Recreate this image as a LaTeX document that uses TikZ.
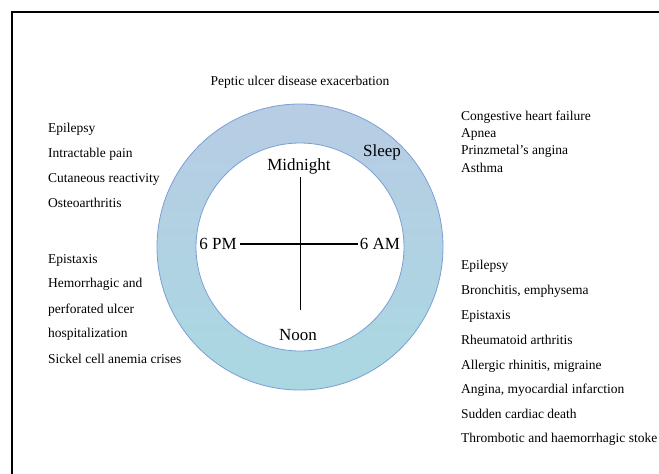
\documentclass[tikz,border=0pt]{standalone}
\usepackage{fontspec}
\setmainfont{Liberation Serif}
\usepackage{xcolor}
\definecolor{ringtop}{HTML}{B8CCE4}
\definecolor{ringmid}{HTML}{C6E4EC}
\definecolor{ringbot}{HTML}{A9D8E2}
\definecolor{ringline}{HTML}{7A9ED6}
\tikzset{
    item/.style={anchor=west,inner sep=0pt,font=\fontsize{13.5}{15}\selectfont},
    hour/.style={inner sep=1pt,font=\fontsize{17}{19}\selectfont}
}
\begin{document}
\begin{tikzpicture}
    [x=1pt,y=-1pt]
    \useasboundingbox (0,0) rectangle (659,474);
    %frame
    \draw[line width=1.6pt](12,474)--(12,12)--(659,12);
    %ring
    \shade[top color=ringtop,middle color=ringmid,bottom color=ringbot]
    (300,247) circle (143);
    \draw[ringline,line width=0.8pt] (300,247) circle (143);
    \filldraw[fill=white,draw=ringline,line width=0.8pt] (300,247) circle (104);
    %clock
    \node[hour] (mid) at (299,166) {Midnight};
    \node[hour] (noon) at (298,335) {Noon};
    \node[hour] (pm) at (218,244) {6 PM};
    \node[hour] (am) at (380,244) {6 AM};
    \node[hour] (sleep) at (382,152) {Sleep};
    \coordinate (top) at (300.5,177);
    \coordinate (bot) at (300.5,310);
    \coordinate (west) at (240,244);
    \coordinate (east) at (358,244);
    \draw[line width=1.8pt] (top)--(bot);
    \draw[line width=1.8pt] (west)--(east);
    %top
    \node[font=\fontsize{13.5}{15}\selectfont] (peptic) at (300,82)
    {Peptic ulcer disease exacerbation};
    %left
    \node[item] (l1) at (48,129) {Epilepsy};
    \node[item] (l2) at (48,154) {Intractable pain};
    \node[item] (l3) at (48,179) {Cutaneous reactivity};
    \node[item] (l4) at (48,203) {Osteoarthritis};
    \node[item] (l5) at (48,260) {Epistaxis};
    \node[item] (l6) at (48,284) {Hemorrhagic and};
    \node[item] (l7) at (48,310) {perforated ulcer};
    \node[item] (l8) at (48,334) {hospitalization};
    \node[item] (l9) at (48,359) {Sickel cell anemia crises};
    %right top
    \node[item] (r1) at (461,117) {Congestive heart failure};
    \node[item] (r2) at (461,134) {Apnea};
    \node[item] (r3) at (461,151) {Prinzmetal’s angina};
    \node[item] (r4) at (461,168) {Asthma};
    %right bottom
    \node[item] (r5) at (461,266) {Epilepsy};
    \node[item] (r6) at (461,291) {Bronchitis, emphysema};
    \node[item] (r7) at (461,316) {Epistaxis};
    \node[item] (r8) at (461,340) {Rheumatoid arthritis};
    \node[item] (r9) at (461,366) {Allergic rhinitis, migraine};
    \node[item] (r10) at (461,390) {Angina, myocardial infarction};
    \node[item] (r11) at (461,414) {Sudden cardiac death};
    \node[item] (r12) at (461,439) {Thrombotic and haemorrhagic stoke};
\end{tikzpicture}
\end{document}
